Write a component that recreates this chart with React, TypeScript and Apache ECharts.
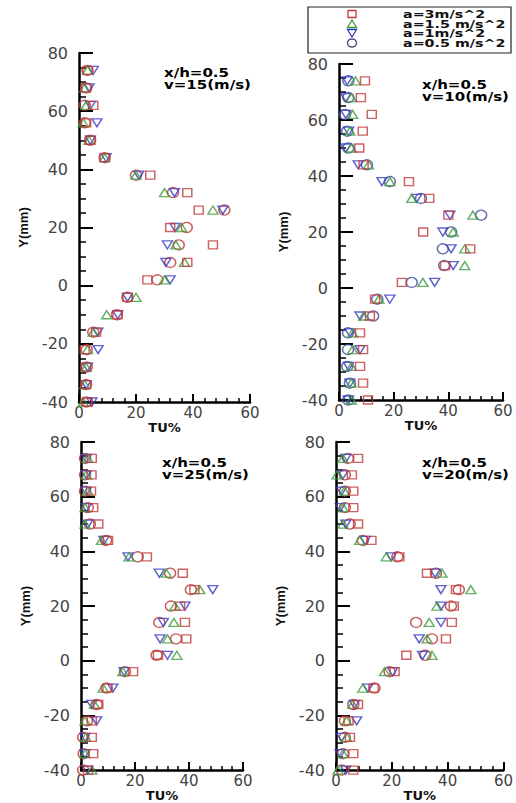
import React, { useEffect, useRef } from 'react';
import * as echarts from 'echarts';

// Y positions (mm) of the measurement rows
const Y_MM = [74, 68, 62, 56, 50, 44, 38, 32, 26, 20, 14, 8, 2, -4, -10, -16, -22, -28, -34, -40];

const X_TICK_LABELS = ['0', '20', '40', '60'];
const Y_TICK_LABELS = ['-40', '-20', '0', '20', '40', '60', '80'];

const SERIES_NAMES = ['a=3m/s^2', 'a=1.5 m/s^2', 'a=1m/s^2', 'a=0.5 m/s^2'];

// Panel 1: v = 15 m/s
const V15_A3 = [3, 2.5, 5, 2.5, 4, 9, 25, 38, 42, 32, 47, 38, 24, 17, 13.5, 6, 2, 2.5, 2.5, 3];
const V15_A15 = [3, 2, 2.5, 1.5, 3.5, 9, 20, 30, 47, 36, 34, 37, 30, 20, 9.7, 5, 3, 2.5, 2, 1.5];
const V15_A1 = [5, 3.5, 4, 6.3, 4, 9.5, 21, 33.5, 50.5, 33.7, 31, 30.5, 32, 17, 13.6, 6.6, 6.7, 3, 2.5, 4.5];
const V15_A05 = [3, 2.5, 2, 2, 3.9, 9, 20, 33, 51, 37.8, 35, 32, 27.5, 17, 13.3, 5, 2.7, 2.7, 2.5, 2.5];

// Panel 2: v = 10 m/s
const V10_A3 = [9.5, 8, 12, 8.7, 7.4, 9, 25.6, 33, 40, 30.8, 48, 38.8, 23, 13.2, 11.3, 7.7, 8.8, 7.7, 8.8, 10.6];
const V10_A15 = [6, 4.5, 5, 4, 4.5, 10.8, 18.6, 26.6, 49, 41.8, 46, 46, 30.7, 14.6, 9, 5, 5, 4.5, 4.5, 4.5];
const V10_A1 = [3, 2.5, 2.5, 3.5, 2.5, 7, 15.7, 28.4, 40.6, 38, 41, 41.8, 35, 18.6, 7.7, 4, 7.7, 3.5, 4, 3.4];
const V10_A05 = [3.4, 3.4, 2.2, 3, 3.4, 10.2, 18.6, 30, 52, 41, 38, 38.5, 26.6, 14, 12.5, 3.3, 3.3, 3, 4, 3.4];

// Panel 3: v = 25 m/s
const V25_A3 = [4, 3.9, 3.7, 4.5, 6.4, 10, 24.4, 37.7, 42, 36.7, 38.5, 39, 28.5, 19.3, 9.8, 6.4, 4, 4, 4.5, 2.6];
const V25_A15 = [2.5, 2, 2.5, 1.5, 1.5, 7.6, 17.8, 31.6, 44, 34.8, 34.4, 32, 35.5, 15.5, 8.2, 5, 1.5, 1.8, 1.5, 4];
const V25_A1 = [2, 2, 2, 2, 2.5, 8.5, 17.4, 29, 48.8, 38.5, 30.5, 29.3, 32, 16, 11.8, 4, 5.8, 1.5, 1.5, 2.5];
const V25_A05 = [1.5, 1.5, 1.5, 2.5, 3.3, 9.3, 21, 33, 40.7, 33.3, 29, 35.2, 28, 16.3, 9.4, 5.8, 2.2, 0.8, 1, 0.8];

// Panel 4: v = 20 m/s
const V20_A3 = [7.9, 5.7, 6.2, 6.2, 7.9, 12.7, 22.7, 32.6, 43, 42.2, 41.5, 39.4, 25.2, 21, 13.5, 7.9, 4.5, 5, 6.2, 6.2];
const V20_A15 = [2.5, 0.4, 3, 2.5, 2.5, 8.5, 18, 38, 48.3, 36.2, 33.4, 32.6, 34.4, 17.4, 9.6, 6, 3.8, 3.8, 2.5, 0.7];
const V20_A1 = [3.5, 2.5, 2, 1.5, 3.5, 10.5, 19.8, 35.5, 37.6, 37.6, 37.6, 29.8, 31, 20.3, 11.4, 6.6, 7.4, 2, 1.5, 3.5];
const V20_A05 = [4.3, 3.2, 3.2, 3.2, 4.9, 9.6, 22, 35.8, 44, 41.2, 28.7, 34.4, 32, 19.2, 13.8, 6.2, 3.2, 3.2, 2.5, 2];

const PANEL_LABELS = ['x/h=0.5\nv=15(m/s)', 'x/h=0.5\nv=10(m/s)', 'x/h=0.5\nv=25(m/s)', 'x/h=0.5\nv=20(m/s)'];
const PANEL_DATA = [
  [V15_A3, V15_A15, V15_A1, V15_A05],
  [V10_A3, V10_A15, V10_A1, V10_A05],
  [V25_A3, V25_A15, V25_A1, V25_A05],
  [V20_A3, V20_A15, V20_A1, V20_A05],
];

const GRIDS = [
  { left: 79, top: 53, width: 171, height: 349 },
  { left: 339, top: 64, width: 164, height: 336 },
  { left: 81, top: 442, width: 162, height: 335 },
  { left: 336, top: 442, width: 169, height: 333 },
];
const LABEL_POS = [
  [164, 67],
  [422, 79],
  [162, 457],
  [422, 457],
];

const RED = '#c23a3a';
const GREEN = '#3c9c3c';
const BLUE = '#3a3ac4';
const CIRCLE_COLORS = ['#c03535', '#3e4a9a', '#b83535', '#b83535'];
const LEGEND_CIRCLE = '#4e5088';

const SYMBOLS = [
  { symbol: 'rect', size: [9, 8], rotate: 0 },
  { symbol: 'triangle', size: [10, 8], rotate: 0 },
  { symbol: 'triangle', size: [10, 8], rotate: 180 },
  { symbol: 'circle', size: [11, 10], rotate: 0 },
];

const FONT = 'DejaVu Sans';

export default function App() {
  const ref = useRef<HTMLDivElement>(null);
  useEffect(() => {
    if (!ref.current) return;
    const chart = echarts.init(ref.current, undefined, { renderer: 'svg' });

    const xAxes: any[] = [];
    const yAxes: any[] = [];
    const series: any[] = [];
    GRIDS.forEach((g, p) => {
      xAxes.push({
        gridIndex: p,
        type: 'value',
        min: 0,
        max: 60,
        interval: 20,
        name: 'TU%',
        nameLocation: 'middle',
        nameGap: 12,
        nameTextStyle: { fontFamily: FONT, fontWeight: 'bold', fontSize: 13, color: '#111' },
        axisLine: { show: true, onZero: false, lineStyle: { color: '#000', width: 2.5 } },
        axisTick: { show: true, inside: true, length: 8, lineStyle: { color: '#000', width: 2 } },
        minorTick: { show: true, splitNumber: 5, length: 4, lineStyle: { color: '#000', width: 1.5 } },
        splitLine: { show: false },
        axisLabel: {
          margin: 3,
          fontFamily: FONT,
          fontSize: 15,
          color: '#444',
          formatter: (v: number) => X_TICK_LABELS[Math.round(v / 20)] ?? '',
        },
      });
      yAxes.push({
        gridIndex: p,
        type: 'value',
        min: -40,
        max: 80,
        interval: 20,
        name: 'Y(mm)',
        nameLocation: 'middle',
        nameGap: 49,
        nameTextStyle: { fontFamily: 'Liberation Sans', fontWeight: 'bold', fontSize: 13, color: '#111' },
        axisLine: { show: true, onZero: false, lineStyle: { color: '#000', width: 2.5 } },
        axisTick: { show: true, inside: true, length: 14, lineStyle: { color: '#000', width: 2 } },
        minorTick: { show: true, splitNumber: 4, length: 7, lineStyle: { color: '#000', width: 1.5 } },
        splitLine: { show: false },
        axisLabel: {
          margin: 11,
          fontFamily: FONT,
          fontSize: 16,
          color: '#444',
          formatter: (v: number) => Y_TICK_LABELS[Math.round((v + 40) / 20)] ?? '',
        },
      });
      PANEL_DATA[p].forEach((xs, s) => {
        const sym = SYMBOLS[s];
        const color = s === 0 ? RED : s === 1 ? GREEN : s === 2 ? BLUE : CIRCLE_COLORS[p];
        series.push({
          type: 'scatter',
          name: SERIES_NAMES[s],
          xAxisIndex: p,
          yAxisIndex: p,
          symbol: sym.symbol,
          symbolSize: sym.size,
          symbolRotate: sym.rotate,
          itemStyle: { color: 'rgba(0,0,0,0)', borderColor: color, borderWidth: 1.4 },
          emphasis: { disabled: true },
          data: xs.map((x, i) => [x, Y_MM[i]]),
          z: 5 - s,
        });
      });
    });

    const legendColors = [RED, GREEN, BLUE, LEGEND_CIRCLE];
    const legendRows = [14, 24, 33, 43];
    const legendGraphics: any[] = [
      {
        type: 'rect',
        shape: { x: 308, y: 7, width: 203, height: 46 },
        style: { fill: '#fff', stroke: '#222', lineWidth: 1.2 },
      },
    ];
    const sx = 352;
    legendRows.forEach((ry, i) => {
      const c = legendColors[i];
      if (i === 0) {
        legendGraphics.push({ type: 'rect', shape: { x: sx - 4, y: ry - 3.5, width: 8, height: 7 }, style: { fill: 'none', stroke: c, lineWidth: 1.3 } });
      } else if (i === 1) {
        legendGraphics.push({ type: 'polygon', shape: { points: [[sx, ry - 4], [sx + 4.5, ry + 3.5], [sx - 4.5, ry + 3.5]] }, style: { fill: 'none', stroke: c, lineWidth: 1.3 } });
      } else if (i === 2) {
        legendGraphics.push({ type: 'polygon', shape: { points: [[sx - 4.5, ry - 3.5], [sx + 4.5, ry - 3.5], [sx, ry + 4]] }, style: { fill: 'none', stroke: c, lineWidth: 1.3 } });
      } else {
        legendGraphics.push({ type: 'ellipse', shape: { cx: sx, cy: ry, rx: 4.5, ry: 4 }, style: { fill: 'none', stroke: c, lineWidth: 1.5 } });
      }
      legendGraphics.push({
        type: 'text',
        x: 403,
        y: ry,
        scaleX: 1.3,
        style: { text: SERIES_NAMES[i], font: `bold 11px "${FONT}"`, fill: '#111', verticalAlign: 'middle' },
      });
    });

    const labelGraphics = PANEL_LABELS.map((t, p) => ({
      type: 'text',
      x: LABEL_POS[p][0],
      y: LABEL_POS[p][1],
      scaleX: 1.25,
      style: { text: t, font: `bold 12px "${FONT}"`, fill: '#000', lineHeight: 12 },
    }));

    chart.setOption({
      animation: false,
      backgroundColor: '#fff',
      grid: GRIDS.map((g) => ({ ...g, containLabel: false })),
      xAxis: xAxes,
      yAxis: yAxes,
      series,
      graphic: [...legendGraphics, ...labelGraphics],
    });
    return () => chart.dispose();
  }, []);
  return <div ref={ref} style={{ position: 'absolute', left: 0, top: 0, width: 516, height: 803 }} />;
}
